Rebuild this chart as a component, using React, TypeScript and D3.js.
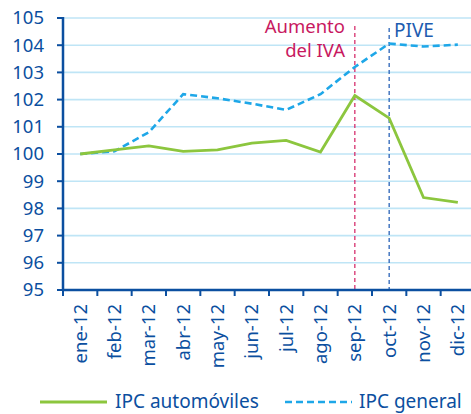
import React from "react";
import * as d3 from "d3";

const months = ["ene-12", "feb-12", "mar-12", "abr-12", "may-12", "jun-12", "jul-12", "ago-12", "sep-12", "oct-12", "nov-12", "dic-12"];
const ipcAuto = [100, 100.15, 100.3, 100.1, 100.15, 100.4, 100.5, 100.07, 102.15, 101.32, 98.4, 98.22];
const ipcGeneral = [100, 100.1, 100.8, 102.2, 102.05, 101.85, 101.62, 102.2, 103.2, 104.06, 103.95, 104.02];
const yTicks = [95, 96, 97, 98, 99, 100, 101, 102, 103, 104, 105];

const W = 471, H = 414;
const left = 63, right = 475, top = 18, bottom = 290;
const axisColor = "#0b4fa0";
const font = "'Noto Sans', sans-serif";

export default function App() {
  const x = d3.scaleBand<string>().domain(months).range([left, right]);
  const y = d3.scaleLinear().domain([95, 105]).range([bottom, top]);
  const cx = (m: string) => (x(m) as number) + x.bandwidth() / 2;
  const line = d3.line<number>((_, i) => cx(months[i]), (d) => y(d));

  return (
    <svg width={W} height={H} style={{ position: "absolute", left: 0, top: 0 }} fontFamily={font}>
      {yTicks.slice(1).map((t) => (
        <line key={t} x1={left} x2={W} y1={y(t)} y2={y(t)} stroke="#bfe5f6" strokeWidth={1.6} />
      ))}
      {/* markers */}
      <line x1={cx("sep-12")} x2={cx("sep-12")} y1={26} y2={bottom} stroke="#d6306e" strokeWidth={1.3} strokeDasharray="4,3" />
      <line x1={cx("oct-12")} x2={cx("oct-12")} y1={28} y2={bottom} stroke="#2a63b8" strokeWidth={1.3} strokeDasharray="4,3" />
      <text x={345} y={33} textAnchor="end" fill="#c8195f" fontSize={18.5}>Aumento</text>
      <text x={345} y={57} textAnchor="end" fill="#c8195f" fontSize={18.5}>del IVA</text>
      <text x={394} y={37} fill="#1d5cb0" fontSize={19}>PIVE</text>

      <path d={line(ipcGeneral) ?? ""} fill="none" stroke="#1ea7e8" strokeWidth={2.6} strokeDasharray="7,4" />
      <path d={line(ipcAuto) ?? ""} fill="none" stroke="#8cc63e" strokeWidth={2.8} />

      {/* axes */}
      <line x1={left} x2={left} y1={top - 1} y2={bottom + 1} stroke={axisColor} strokeWidth={2.5} />
      <line x1={left} x2={W} y1={bottom} y2={bottom} stroke={axisColor} strokeWidth={2.5} />
      {yTicks.map((t) => (
        <g key={t}>
          <line x1={left - 6} x2={left} y1={y(t)} y2={y(t)} stroke={axisColor} strokeWidth={2} />
          <text x={44} y={y(t)} dy="0.35em" textAnchor="end" fill={axisColor} fontSize={18.5}>{t}</text>
        </g>
      ))}
      {months.map((m) => (
        <g key={m}>
          <line x1={x(m) as number} x2={x(m) as number} y1={bottom} y2={bottom + 6} stroke={axisColor} strokeWidth={2} />
          <text transform={`translate(${cx(m)},${bottom + 14}) rotate(-90)`} dy="0.35em" textAnchor="end" fill={axisColor} fontSize={18.5}>{m}</text>
        </g>
      ))}

      {/* legend */}
      <line x1={40} x2={107} y1={402} y2={402} stroke="#8cc63e" strokeWidth={2.8} />
      <text x={115} y={408} fill={axisColor} fontSize={19}>IPC automóviles</text>
      <line x1={285} x2={352} y1={402} y2={402} stroke="#1ea7e8" strokeWidth={2.6} strokeDasharray="7,4" />
      <text x={359} y={408} fill={axisColor} fontSize={19}>IPC general</text>
    </svg>
  );
}
